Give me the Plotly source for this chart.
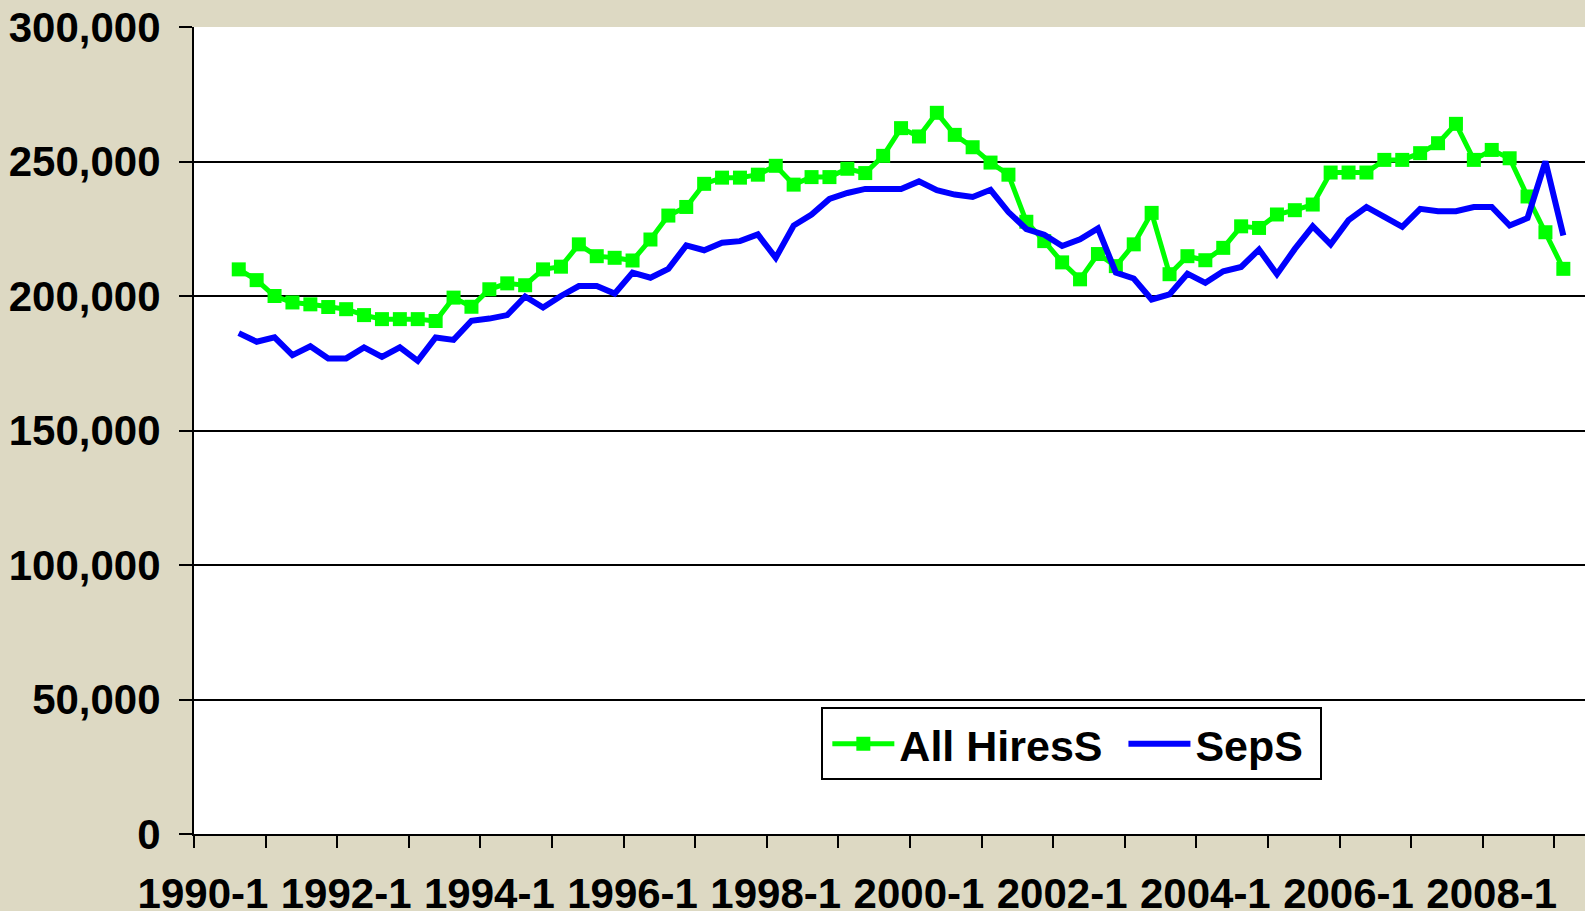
import plotly.graph_objects as go

# Quarterly categories 1990-1 .. 2009-2
quarters = [f"{y}-{q}" for y in range(1990, 2010) for q in range(1, 5)][:78]

# All HiresS (seasonally adjusted hires), quarters 1990-3 .. 2009-1
hires = [None, None,
         209900, 205900, 200000, 197600, 196900, 195900, 195100, 192900,
         191400, 191400, 191400, 190700, 199400, 196000, 202500, 204700,
         204000, 209900, 210900, 219200, 214800, 214200, 213200, 221000,
         229900, 233100, 241700, 244000, 244000, 245100, 248400, 241400,
         244200, 244200, 247300, 245700, 252100, 262400, 259300, 268100,
         259900, 255300, 249600, 245100, 227600, 220400, 212500, 206200,
         215600, 211100, 219200, 230900, 208100, 214800, 213300, 217900,
         225900, 225300, 230300, 231900, 234000, 245900, 245900, 245900,
         250600, 250600, 253100, 256800, 264000, 250600, 254300, 251200,
         237000, 223700, 210100,
         None]

# SepS (seasonally adjusted separations)
seps = [None, None,
        186200, 183000, 184600, 178000, 181300, 176800, 176800, 180900,
        177400, 180900, 175900, 184600, 183700, 190800, 191600, 192900,
        199800, 195700, 200000, 203700, 203700, 200900, 208700, 206800,
        210100, 218800, 217000, 219800, 220400, 222900, 214200, 226200,
        230300, 236100, 238300, 239800, 239800, 239800, 242600, 239300,
        237700, 236800, 239500, 231200, 224900, 222800, 218600, 221100,
        225100, 208700, 206500, 198700, 200600, 208300, 204900, 209200,
        210800, 217300, 208100, 217500, 225900, 219200, 228200, 233100,
        229400, 225700, 232400, 231500, 231500, 233100, 233100, 226200,
        229000, 250000, 222500,
        None]

series_names = ["All HiresS", "SepS"]

label_idx = list(range(0, len(quarters), 8))
label_text = [quarters[i] for i in label_idx]
boundary_ticks = [i - 0.5 for i in range(0, len(quarters), 4)]
y_ticks = [0, 50000, 100000, 150000, 200000, 250000, 300000]

xs = list(range(len(quarters)))
FONT = "Liberation Sans, Arial, sans-serif"
BG = "#DDD9C3"
NB = "\u00a0"

fig = go.Figure()
fig.add_trace(go.Scatter(
    x=xs, y=hires, name=series_names[0] + NB, mode="lines+markers",
    customdata=quarters,
    line=dict(color="#00FF00", width=5),
    marker=dict(symbol="square", size=14, color="#00FF00"),
    hovertemplate="%{customdata}: %{y:,}<extra>All HiresS</extra>",
))
fig.add_trace(go.Scatter(
    x=xs, y=seps, name=series_names[1] + NB, mode="lines",
    customdata=quarters,
    line=dict(color="#0000FF", width=6),
    hovertemplate="%{customdata}: %{y:,}<extra>SepS</extra>",
))

fig.update_layout(
    width=1585, height=911,
    margin=dict(l=194, r=0, t=27, b=77, pad=0, autoexpand=False),
    paper_bgcolor=BG,
    plot_bgcolor="#FFFFFF",
    font=dict(family=FONT, size=42, color="#000000"),
    showlegend=True,
    legend=dict(
        orientation="h", x=0.451, y=0.157, xanchor="left", yanchor="top",
        bgcolor="#FFFFFF", bordercolor="#000000", borderwidth=2,
        font=dict(family=FONT, size=43, color="#000000", weight="bold"),
        itemwidth=62, indentation=4,
    ),
    xaxis=dict(
        range=[-0.5, 77.21], automargin=False,
        tickmode="array", tickvals=label_idx, ticktext=label_text,
        ticks="", showgrid=False, zeroline=False,
        showline=True, linecolor="#000000", linewidth=2,
        tickfont=dict(family=FONT, size=42, color="#000000", weight="bold"),
        ticklabelstandoff=22,
        minor=dict(tickmode="array", tickvals=boundary_ticks, ticks="outside",
                   ticklen=12, tickwidth=2, tickcolor="#000000", showgrid=False),
    ),
    yaxis=dict(
        range=[0, 300000], automargin=False,
        tickmode="array", tickvals=y_ticks, tickformat=",",
        ticks="outside", ticklen=13, tickwidth=2, tickcolor="#000000",
        showgrid=True, gridcolor="#000000", gridwidth=2,
        zeroline=False,
        showline=True, linecolor="#000000", linewidth=2,
        tickfont=dict(family=FONT, size=42, color="#000000", weight="bold"),
        ticklabelstandoff=10,
    ),
)

post = (
    "document.body.style.margin='0px';"
    "document.body.style.padding='0px';"
    f"document.body.style.background='{BG}';"
    "document.documentElement.style.overflow='hidden';"
)
fig.write_html("out.html", post_script=post, config={"displayModeBar": False})
